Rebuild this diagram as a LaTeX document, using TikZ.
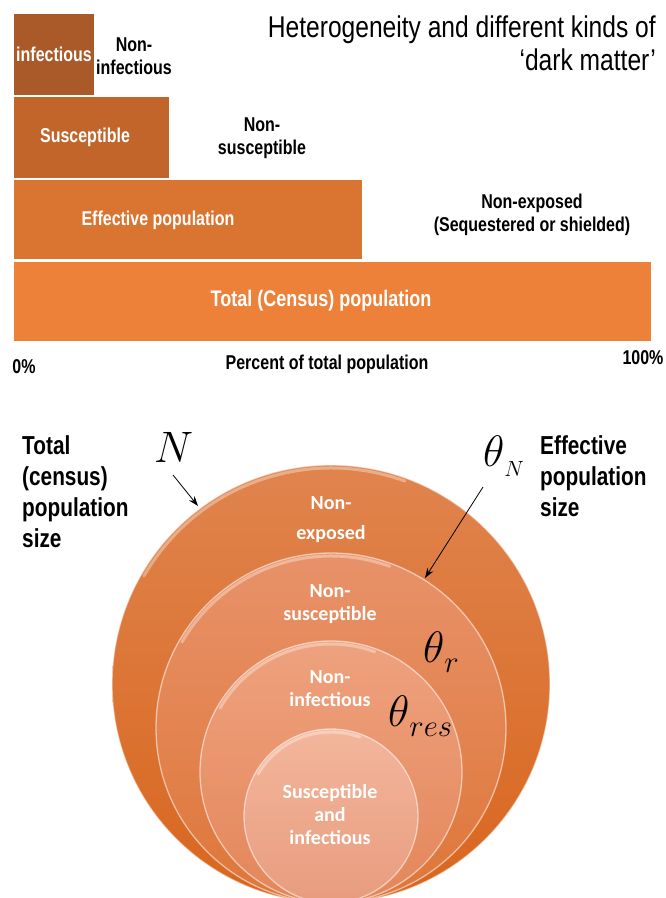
\RequirePackage{fix-cm}
\documentclass[tikz,border=0pt]{standalone}
\usepackage[no-math]{fontspec}
\setmainfont{Liberation Sans}
\newfontfamily\nb[FakeStretch=0.8]{Liberation Sans}
\newfontfamily\nr[FakeStretch=0.82]{Liberation Sans}
\newfontfamily\cb{Carlito}
\usetikzlibrary{arrows.meta}
\definecolor{barA}{HTML}{A95A28}
\definecolor{barB}{HTML}{C1652A}
\definecolor{barC}{HTML}{D97531}
\definecolor{barD}{HTML}{ED8139}
\definecolor{oAt}{HTML}{E0844E}
\definecolor{oAb}{HTML}{D8661E}
\definecolor{oBt}{HTML}{E8926A}
\definecolor{oBb}{HTML}{DE7638}
\definecolor{oCt}{HTML}{EEA27E}
\definecolor{oCb}{HTML}{E4865A}
\definecolor{oDt}{HTML}{F3B69C}
\definecolor{oDb}{HTML}{E89C7E}
\newcommand{\subsc}[2]{\lower#1\hbox{$#2$}}
\begin{document}
\begin{tikzpicture}[x=1pt,y=-1pt,
 lbl/.style={inner sep=0pt, align=center, font=\nb\bfseries\fontsize{20}{23}\selectfont},
 wlbl/.style={lbl,text=white},
 biglbl/.style={inner sep=0pt, align=left, anchor=north west, font=\nb\bfseries\fontsize{26}{31}\selectfont},
 cl/.style={inner sep=0pt, align=center, text=white, font=\cb\bfseries\fontsize{20}{23}\selectfont},
 mth/.style={inner sep=0pt, anchor=base west, font=\fontsize{44}{44}\selectfont},
 arr/.style={-{Stealth[length=10pt,width=7pt]}, line width=0.8pt},
 rim/.style={draw=white, draw opacity=0.55, line width=1.3pt},
 gloss/.style={white, opacity=0.35, line width=3pt, line cap=round}
]
\useasboundingbox (0,0) rectangle (665,898);
\fill[white] (0,0) rectangle (665,898);

% ---------- bar chart ----------
\fill[barA] (14,14) rectangle (94,95);
\fill[barB] (14,97) rectangle (169,178);
\fill[barC] (14,180) rectangle (362,259);
\fill[barD] (14,262) rectangle (651,341);

\node[wlbl] (inf) at (54,54) {infectious};
\node[lbl] (noninf) at (134,56) {Non-\\infectious};
\node[wlbl] (sus) at (85,137) {Susceptible};
\node[lbl] (nonsus) at (262,138) {Non-\\susceptible};
\node[wlbl] (eff) at (158,220) {Effective population};
\node[lbl] (nonexp) at (532,215) {Non-exposed\\(Sequestered or shielded)};
\node[wlbl, font=\nb\bfseries\fontsize{22.5}{26}\selectfont] (tot) at (321,301) {Total (Census) population};
\node[lbl] (p0) at (24,367) {0\%};
\node[lbl] (pct) at (327,364) {Percent of total population};
\node[lbl] (p100) at (643,358) {100\%};

\node[inner sep=0pt, align=right, anchor=north east, font=\nr\fontsize{30}{33}\selectfont] (title) at (656,16) {Heterogeneity and different kinds of\\‘dark matter’};

% ---------- nested circles ----------
\begin{scope}
\clip (0,0) rectangle (665,898);
\shade[top color=oAt, bottom color=oAb, rim] (331,684) circle[radius=219pt];
\draw[gloss] (331,684) ++(150:216pt) arc[start angle=150, end angle=70, radius=216pt];
\shade[top color=oBt, bottom color=oBb, rim] (331,728) circle[radius=175pt];
\draw[gloss] (331,728) ++(150:172pt) arc[start angle=150, end angle=70, radius=172pt];
\shade[top color=oCt, bottom color=oCb, rim] (331,772) circle[radius=131pt];
\draw[gloss] (331,772) ++(150:128pt) arc[start angle=150, end angle=70, radius=128pt];
\shade[top color=oDt, bottom color=oDb, rim] (331,816) circle[radius=87pt];
\draw[gloss] (331,816) ++(150:84pt) arc[start angle=150, end angle=70, radius=84pt];
\end{scope}

\node[cl] (c1) at (331,520) {Non-\\[7pt]exposed};
\node[cl] (c2) at (330,604) {Non-\\susceptible};
\node[cl] (c3) at (330,689) {Non-\\infectious};
\node[cl] (c4) at (330,815) {Susceptible\\and\\infectious};

\node[biglbl] (totsize) at (22,435) {Total\\(census)\\population\\size};
\node[biglbl] (effsize) at (540,435) {Effective\\population\\size};

\node[mth] (N) at (154,462) {$N$};
\node[mth] (thN) at (483,466) {$\theta\subsc{10pt}{\scriptscriptstyle N}$};
\node[mth] (thr) at (423,662) {$\theta\subsc{10pt}{\scriptstyle r}$};
\node[mth] (thres) at (388,726) {$\theta\subsc{10pt}{\scriptstyle res}$};

\coordinate (Nend) at (198,506);
\coordinate (Nstart) at (173,475);
\coordinate (thNstart) at (483,487);
\coordinate (thNend) at (425,578);
\draw[arr] (Nstart) -- (Nend);
\draw[arr] (thNstart) -- (thNend);
\end{tikzpicture}
\end{document}
